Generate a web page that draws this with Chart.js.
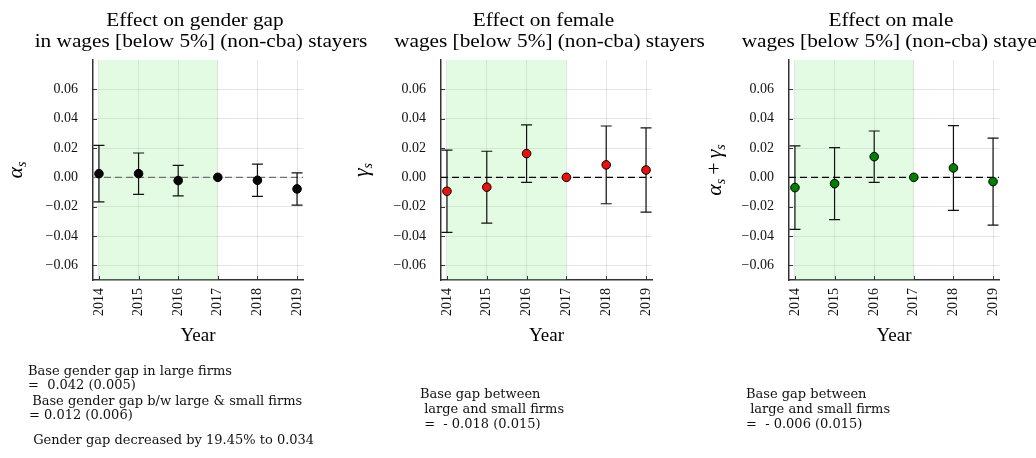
<!DOCTYPE html>
<html><head><meta charset="utf-8">
<script src="https://cdn.jsdelivr.net/npm/chart.js@4.4.1/dist/chart.umd.min.js"></script>
<style>
html,body{margin:0;padding:0;background:#fff;}
#wrap{position:relative;width:1036px;height:458px;overflow:hidden;background:#fff;}
canvas{position:absolute;left:0;top:0;}
.note{position:absolute;font-family:"DejaVu Serif",serif;font-size:13px;line-height:13px;white-space:pre;color:#111;}
</style></head><body>
<div id="wrap">
<canvas id="c1" width="1036" height="458"></canvas>
<canvas id="c2" width="1036" height="458"></canvas>
<canvas id="c3" width="1036" height="458"></canvas>
<div class="note" style="left:28px;top:364px">Base gender gap in large firms</div>
<div class="note" style="left:28px;top:377.5px">=  0.042 (0.005)</div>
<div class="note" style="left:28px;top:394px"> Base gender gap b/w large &amp; small firms</div>
<div class="note" style="left:29px;top:408px">= 0.012 (0.006)</div>
<div class="note" style="left:29px;top:433px"> Gender gap decreased by 19.45% to 0.034</div>
<div class="note" style="left:420px;top:387px">Base gap between</div>
<div class="note" style="left:420px;top:401.5px"> large and small firms</div>
<div class="note" style="left:420px;top:417px"> =  - 0.018 (0.015)</div>
<div class="note" style="left:746px;top:387px">Base gap between</div>
<div class="note" style="left:746px;top:401.5px"> large and small firms</div>
<div class="note" style="left:746px;top:417px">=  - 0.006 (0.015)</div>
</div>
<script>
// ---- data ----
const years = [2014, 2015, 2016, 2017, 2018, 2019];
const alphaEst = [0.0025, 0.0025, -0.0022, 0, -0.0020, -0.0079];
const alphaErr = [0.0193, 0.0141, 0.0104, 0, 0.0110, 0.0110];
const gammaEst = [-0.0095, -0.0067, 0.0162, 0, 0.0085, 0.0050];
const gammaErr = [0.0280, 0.0245, 0.0196, 0, 0.0265, 0.0287];
const sumEst = [-0.0070, -0.0043, 0.0141, 0, 0.0064, -0.0029];
const sumErr = [0.0285, 0.0246, 0.0175, 0, 0.0289, 0.0297];
const yTicks = [-0.06, -0.04, -0.02, 0, 0.02, 0.04, 0.06];
const shadeRange = [2014, 2017];

const panelPlugin = {
  id: 'panel',
  beforeDatasetsDraw(chart, args, o) {
    const {ctx, chartArea: a, scales: {x, y}} = chart;
    ctx.save();
    const x0 = x.getPixelForValue(shadeRange[0]), x1 = x.getPixelForValue(shadeRange[1]);
    ctx.fillStyle = 'rgba(144,238,144,0.25)';
    ctx.fillRect(x0, a.top, x1 - x0, a.bottom - a.top);
    // inward tick marks
    ctx.strokeStyle = '#333'; ctx.lineWidth = 1;
    ctx.beginPath();
    years.forEach(v => { const px = Math.round(x.getPixelForValue(v)) + 0.5; ctx.moveTo(px, a.bottom); ctx.lineTo(px, a.bottom - 4); });
    yTicks.forEach(v => { const py = Math.round(y.getPixelForValue(v)) + 0.5; ctx.moveTo(a.left, py); ctx.lineTo(a.left + 4, py); });
    ctx.stroke();
    // zero line
    const y0 = y.getPixelForValue(0);
    ctx.strokeStyle = o.zeroColor; ctx.lineWidth = 1.3; ctx.setLineDash([7, 4]);
    ctx.beginPath(); ctx.moveTo(a.left, y0); ctx.lineTo(a.right, y0); ctx.stroke();
    ctx.setLineDash([]);
    // error bars
    const ds = chart.data.datasets[0];
    ctx.strokeStyle = '#111'; ctx.lineWidth = 1.2;
    ds.data.forEach((p, i) => {
      const e = o.err[i]; if (!e) return;
      const px = x.getPixelForValue(p.x), pt = y.getPixelForValue(p.y + e), pb = y.getPixelForValue(p.y - e);
      ctx.beginPath();
      ctx.moveTo(px, pt); ctx.lineTo(px, pb);
      ctx.moveTo(px - 5.5, pt); ctx.lineTo(px + 5.5, pt);
      ctx.moveTo(px - 5.5, pb); ctx.lineTo(px + 5.5, pb);
      ctx.stroke();
    });
    ctx.restore();
  },
  afterDraw(chart, args, o) {
    const {ctx, chartArea: a} = chart;
    const cx = (a.left + a.right) / 2;
    ctx.save();
    ctx.fillStyle = '#000';
    ctx.textAlign = 'center'; ctx.textBaseline = 'alphabetic';
    // titles (slightly widened to mimic Computer Modern widths)
    o.title.forEach((t, i) => {
      ctx.save();
      ctx.translate(cx + (i === 0 ? -3 : 3), 26 + i * 21);
      ctx.scale(1.15, 1);
      ctx.font = '18.5px "Liberation Serif"';
      ctx.fillText(t, 0, 0);
      ctx.restore();
    });
    // x label
    ctx.font = '19px "Liberation Serif"';
    ctx.fillText('Year', cx, 341);
    // y label (rotated, with subscripts)
    ctx.save();
    ctx.translate(o.ylabX, (a.top + a.bottom) / 2);
    ctx.rotate(-Math.PI / 2);
    ctx.textAlign = 'left';
    const parts = o.ylab.map(p => {
      const f = p.sub ? 'italic 14px "Liberation Serif"' : (p.it ? 'italic 22px "Liberation Serif"' : '22px "Liberation Serif"');
      ctx.font = f;
      const pad = p.pad || 0;
      return {t: p.t, f, w: ctx.measureText(p.t).width + 2 * pad, pad, sub: p.sub};
    });
    const total = parts.reduce((s, p) => s + p.w, 0);
    let xx = -total / 2;
    parts.forEach(p => {
      ctx.font = p.f;
      ctx.fillText(p.t, xx + p.pad, p.sub ? 10 : 6);
      xx += p.w;
    });
    ctx.restore();
    ctx.restore();
  }
};

function makeChart(id, est, err, color, cfg) {
  const fontT = {family: 'Liberation Serif', size: 14};
  new Chart(document.getElementById(id), {
    type: 'scatter',
    data: {datasets: [{
      data: years.map((yr, i) => ({x: yr, y: est[i]})),
      backgroundColor: color, borderColor: '#000', borderWidth: 1,
      pointRadius: 4.3, pointHoverRadius: 4.3
    }]},
    options: {
      responsive: false, animation: false, devicePixelRatio: 1,
      events: [],
      layout: {padding: {left: cfg.left - 60, right: 1036 - cfg.right, top: 60, bottom: 458 - 280 - 50}},
      plugins: {
        legend: {display: false}, tooltip: {enabled: false},
        panel: {err: err, zeroColor: cfg.zero, title: cfg.title, ylab: cfg.ylab, ylabX: cfg.ylabX}
      },
      scales: {
        x: {
          type: 'linear', bounds: 'data', min: 2013.85, max: 2019.15,
          afterBuildTicks: s => { s.ticks = years.map(v => ({value: v})); },
          afterFit: s => { s.height = 50; s.paddingLeft = 0; s.paddingRight = 0; },
          grid: {color: 'rgba(0,0,0,0.1)', drawTicks: false, lineWidth: 1},
          border: {color: '#333', width: 1.5},
          ticks: {autoSkip: false, maxRotation: 90, minRotation: 90, padding: 8, font: fontT, color: '#111', callback: v => String(v)}
        },
        y: {
          type: 'linear', bounds: 'data', min: -0.07, max: 0.08,
          afterBuildTicks: s => { s.ticks = yTicks.map(v => ({value: v})); },
          afterFit: s => { s.width = 60; s.paddingTop = 0; s.paddingBottom = 0; },
          grid: {color: 'rgba(0,0,0,0.1)', drawTicks: false, lineWidth: 1},
          border: {color: '#333', width: 1.5},
          ticks: {padding: 15, font: fontT, color: '#111', callback: v => (v < -1e-9 ? '\u2212' : '') + Math.abs(v).toFixed(2)}
        }
      }
    },
    plugins: [panelPlugin]
  });
}

makeChart('c1', alphaEst, alphaErr, '#050505', {
  left: 93, right: 303, zero: '#707070', ylabX: 16,
  title: ['Effect on gender gap', 'in wages [below 5%] (non-cba) stayers'],
  ylab: [{t: '\u03b1', it: true}, {t: 's', sub: true}]
});
makeChart('c2', gammaEst, gammaErr, '#e6140c', {
  left: 441, right: 652, zero: '#000', ylabX: 362,
  title: ['Effect on female', 'wages [below 5%] (non-cba) stayers'],
  ylab: [{t: '\u03b3', it: true}, {t: 's', sub: true}]
});
makeChart('c3', sumEst, sumErr, '#007f00', {
  left: 789, right: 999, zero: '#000', ylabX: 715,
  title: ['Effect on male', 'wages [below 5%] (non-cba) stayers'],
  ylab: [{t: '\u03b1', it: true}, {t: 's', sub: true}, {t: '+', pad: 4}, {t: '\u03b3', it: true}, {t: 's', sub: true}]
});
</script>
</body></html>
